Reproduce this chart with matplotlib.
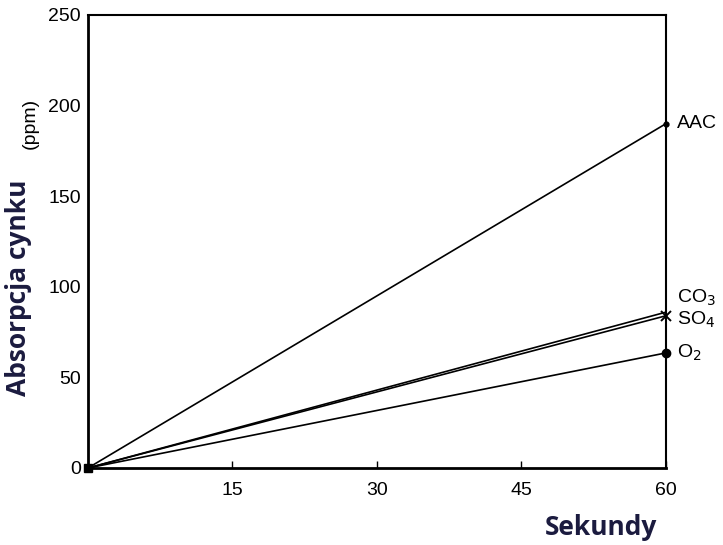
import matplotlib
matplotlib.use("Agg")
import matplotlib.pyplot as plt

# Data
x_start, x_end = 0, 60
series_names = ["AAC", "CO$_3$", "SO$_4$", "O$_2$"]
series_end = [190, 86, 84, 63.5]
series_markers = [".", None, "x", "o"]
x_ticks = [15, 30, 45, 60]
y_ticks = [0, 50, 100, 150, 200, 250]

plt.rcParams['font.family'] = ['Liberation Sans', 'DejaVu Sans']

fig = plt.figure(figsize=(7.23, 5.45), dpi=100)
ax = fig.add_axes([0.1217, 0.1413, 0.921 - 0.1217, 0.9725 - 0.1413])

for name, yv, mk in zip(series_names, series_end, series_markers):
    ax.plot([x_start, x_end], [0, yv], color='black', lw=1.2, solid_capstyle='butt')
    if mk == ".":
        ax.plot([x_end], [yv], marker='o', ms=3.5, color='black', clip_on=False)
    elif mk == "x":
        ax.plot([x_end], [yv], marker='x', ms=7, mew=1.4, color='black', clip_on=False)
    elif mk == "o":
        ax.plot([x_end], [yv], marker='o', ms=6, color='black', clip_on=False)

ax.plot([0], [0], marker='s', ms=6, color='black', clip_on=False)

label_offsets = {"AAC": 0, "CO$_3$": 14, "SO$_4$": -4, "O$_2$": 0}
for name, yv in zip(series_names, series_end):
    ax.annotate(name, xy=(x_end, yv + label_offsets[name] * 250 / 453),
                xytext=(8, 0), textcoords='offset points',
                ha='left', va='center', fontsize=14, clip_on=False,
                annotation_clip=False)

ax.set_xlim(0, 60)
ax.set_ylim(0, 250)
ax.set_xticks(x_ticks)
ax.set_yticks(y_ticks)
ax.tick_params(direction='in', length=5, width=1, labelsize=14)
ax.tick_params(axis='x', pad=10)
ax.tick_params(axis='y', length=0, pad=5)
for sp in ['left', 'bottom']:
    ax.spines[sp].set_linewidth(2)
for sp in ['top', 'right']:
    ax.spines[sp].set_linewidth(1.5)

navy = '#1b1b3f'
fig.text(0.026, 0.471, 'Absorpcja cynku', rotation=90, ha='center', va='center',
         fontsize=19, fontweight='bold', color=navy, family=['Open Sans', 'DejaVu Sans'])
fig.text(0.042, 0.774, '(ppm)', rotation=90, ha='center', va='center', fontsize=14)
fig.text(0.831, 0.033, 'Sekundy', ha='center', va='center',
         fontsize=19, fontweight='bold', color=navy, family=['Open Sans', 'DejaVu Sans'])

fig.savefig('out.png', dpi=100)
